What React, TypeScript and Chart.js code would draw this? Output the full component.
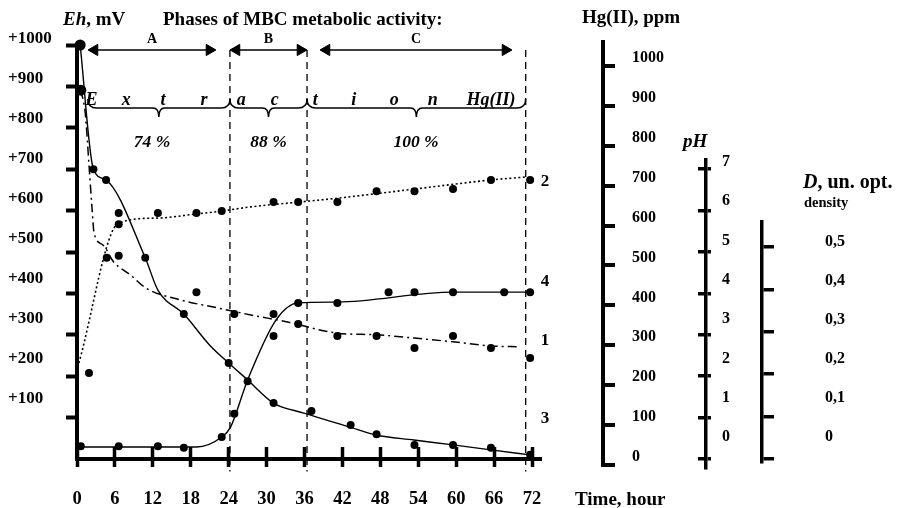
import React, { useEffect, useRef } from 'react';
import { Chart, registerables } from 'chart.js';

Chart.register(...registerables);

const SERIF = "'Liberation Serif', 'Times New Roman', Times, serif";

// ---------- axis ticks ----------
const timeTicks = [0, 6, 12, 18, 24, 30, 36, 42, 48, 54, 60, 66, 72];
const ehTicks = [100, 200, 300, 400, 500, 600, 700, 800, 900, 1000];
const ehTickLabels = ['+100', '+200', '+300', '+400', '+500', '+600', '+700', '+800', '+900', '+1000'];
const hgTicks = [0, 100, 200, 300, 400, 500, 600, 700, 800, 900, 1000];
const phTicks = [0, 1, 2, 3, 4, 5, 6, 7];
const dTicks = [0, 0.1, 0.2, 0.3, 0.4, 0.5];
const dTickLabels = ['0', '0,1', '0,2', '0,3', '0,4', '0,5'];

// ---------- curve 1 (dash-dot) ----------
const curve1Line: [number, number][] = [
  [0.6, 891], [1.3, 836], [1.9, 710], [2.4, 601], [2.7, 546], [4.1, 517], [5.8, 476], [8.5, 444],
  [10.9, 413], [16.4, 384], [21.6, 367], [27.5, 348], [33.3, 331], [41.2, 304], [47.4, 300],
  [53.4, 292], [59.5, 283], [65.5, 273], [70.1, 271],
];
const curve1Dots: [number, number][] = [
  [0.6, 891], [4.7, 486], [6.6, 491], [18.9, 403], [24.9, 350], [31.1, 350], [35, 326], [41.2, 297],
  [47.4, 297], [53.4, 268], [59.5, 297], [65.5, 268], [71.7, 244],
];

// ---------- curve 2 (dotted) ----------
const curve2Line: [number, number][] = [
  [0.3, 232], [6.6, 570], [12.8, 582], [18.9, 592], [22.9, 599], [27.5, 609], [35.4, 621],
  [41.2, 630], [53.4, 652], [65.5, 674], [70.9, 681],
];
const curve2Dots: [number, number][] = [
  [1.9, 208], [6.6, 594], [6.6, 567], [12.8, 594], [18.9, 594], [22.9, 599], [31.1, 621], [35, 621],
  [41.2, 621], [47.4, 647], [53.4, 647], [59.5, 652], [65.5, 674], [71.7, 674],
];

// ---------- curve 3 (solid, falling) ----------
const curve3Line: [number, number][] = [
  [0.5, 1000], [2.6, 700], [4.6, 674], [10.8, 486], [12.8, 408], [16.9, 350], [21, 275], [24, 232],
  [27, 191], [31.1, 135], [35.9, 111], [43.2, 77], [47.3, 58], [53.3, 46], [59.5, 34], [65.5, 22],
  [71.7, 10],
];
const curve3Dots: [number, number][] = [
  [0.5, 1000], [2.6, 700], [4.6, 674], [10.8, 486], [16.9, 350], [24, 232], [31.1, 135], [37.1, 116],
  [43.3, 82], [47.4, 60], [53.4, 34], [59.5, 34], [65.5, 27], [71.7, 10],
];

// ---------- curve 4 (solid, rising) ----------
const curve4Line: [number, number][] = [
  [0.5, 29], [18.9, 29], [22.9, 53], [24.3, 77], [27, 191], [31.5, 336], [35, 377], [41.2, 379],
  [59.5, 403], [71.7, 403],
];
const curve4Dots: [number, number][] = [
  [0.6, 31], [6.6, 31], [12.8, 31], [16.9, 27], [22.9, 53], [24.9, 109], [27, 188], [31.1, 297],
  [35, 377], [41.2, 377], [49.3, 403], [53.4, 403], [59.5, 403], [67.6, 403], [71.7, 403],
];

// ---------- phases ----------
const phaseNames = ['A', 'B', 'C'];
const phaseExtraction = ['74 %', '88 %', '100 %'];
const arrowFrom = [2.77, 25.24, 39.48];
const arrowTo = [20.96, 35.36, 67.8];
const phaseBounds = [1.7, 24.2, 36.4, 71.0];
const phaseDividers = [24.2, 36.4, 71.0];
const extractionWord = ['E', 'x', 't', 'r', 'a', 'c', 't', 'i', 'o', 'n', 'Hg(II)'];
const extractionAt = [2.3, 7.8, 13.6, 20.1, 26.0, 31.3, 37.7, 43.8, 50.2, 56.3, 65.5];

// ---------- curve numbers ----------
const curveNames = ['1', '2', '3', '4'];
const curveNameLevels = [285, 669, 97, 428];
const curveNameAt = 74.05;

const pts = (a: [number, number][]) => a.map(([x, y]) => ({ x, y }));
const tickList = (vals: number[]) => (scale: any) => {
  scale.ticks = vals.map((v) => ({ value: v }));
};
const fixW = (w: number) => (scale: any) => {
  scale.width = w;
};
const fixH = (h: number) => (scale: any) => {
  scale.height = h;
};

const annotationPlugin = {
  id: 'mbcAnnotations',
  afterDraw(chart: any) {
    const ctx = chart.ctx as CanvasRenderingContext2D;
    const xs = chart.scales.x;
    const ys = chart.scales.y;
    const px = (h: number) => xs.getPixelForValue(h);
    ctx.save();
    ctx.fillStyle = '#000';
    ctx.strokeStyle = '#000';
    ctx.textBaseline = 'alphabetic';
    const put = (s: string, x: number, y: number, font: string, align: CanvasTextAlign = 'left') => {
      ctx.font = font;
      ctx.textAlign = align;
      ctx.fillText(s, x, y);
      return ctx.measureText(s).width;
    };

    let w = put('Eh', 63, 25, `italic bold 19px ${SERIF}`);
    put(', mV', 63 + w, 25, `bold 19px ${SERIF}`);
    put('Phases of MBC metabolic activity:', 163, 25, `bold 19px ${SERIF}`);
    put('Hg(II), ppm', 582, 23, `bold 19px ${SERIF}`);
    put('pH', 683, 147, `italic bold 19px ${SERIF}`);
    w = put('D', 803, 188, `italic bold 20px ${SERIF}`);
    put(', un. opt.', 803 + w, 188, `bold 20px ${SERIF}`);
    put('density', 804, 207, `bold 14.5px ${SERIF}`);
    put('Time, hour', 575, 505, `bold 19px ${SERIF}`);

    ctx.lineWidth = 1.5;
    for (let i = 0; i < phaseNames.length; i++) {
      const mid = px((arrowFrom[i] + arrowTo[i]) / 2);
      put(phaseNames[i], mid, 43, `bold 14px ${SERIF}`, 'center');
      put(phaseExtraction[i], mid, 147, `italic bold 17.5px ${SERIF}`, 'center');
      const x0 = px(phaseBounds[i]);
      const x1 = px(phaseBounds[i + 1]);
      const xc = (x0 + x1) / 2;
      const yEnd = 99, yMid = 108, yTip = 117;
      ctx.beginPath();
      ctx.moveTo(x0, yEnd);
      ctx.quadraticCurveTo(x0, yMid, x0 + 9, yMid);
      ctx.lineTo(xc - 6, yMid);
      ctx.quadraticCurveTo(xc, yMid, xc, yTip);
      ctx.quadraticCurveTo(xc, yMid, xc + 6, yMid);
      ctx.lineTo(x1 - 9, yMid);
      ctx.quadraticCurveTo(x1, yMid, x1, yEnd);
      ctx.stroke();
    }
    for (let i = 0; i < extractionWord.length; i++) {
      put(extractionWord[i], px(extractionAt[i]), 105, `italic bold 18px ${SERIF}`, 'center');
    }
    ctx.textBaseline = 'middle';
    for (let i = 0; i < curveNames.length; i++) {
      put(curveNames[i], px(curveNameAt), ys.getPixelForValue(curveNameLevels[i]), `bold 17px ${SERIF}`, 'center');
    }
    ctx.restore();
  },
};

function lineSet(data: [number, number][], width: number, dash: number[]) {
  return {
    type: 'line',
    data: pts(data),
    borderColor: '#000',
    borderWidth: width,
    borderDash: dash,
    pointRadius: 0,
    cubicInterpolationMode: 'monotone',
    fill: false,
    clip: false,
    xAxisID: 'x',
    yAxisID: 'y',
  };
}
function dotSet(data: [number, number][], big: boolean) {
  return {
    type: 'line',
    data: pts(data),
    showLine: false,
    pointRadius: (c: any) => (big && c.dataIndex === 0 ? 5.5 : 4),
    pointBackgroundColor: '#000',
    pointBorderColor: '#000',
    pointBorderWidth: 0,
    clip: false,
    xAxisID: 'x',
    yAxisID: 'y',
  };
}

function mainConfig(): any {
  const datasets: any[] = [
    lineSet(curve1Line, 1.5, [9, 4, 2, 4]),
    lineSet(curve2Line, 1.6, [2, 2.5]),
    lineSet(curve3Line, 1.4, []),
    lineSet(curve4Line, 1.4, []),
    dotSet(curve1Dots, true),
    dotSet(curve2Dots, false),
    dotSet(curve3Dots, true),
    dotSet(curve4Dots, false),
  ];
  phaseDividers.forEach((b) => {
    datasets.push({
      type: 'line',
      data: [{ x: b, y: 988 }, { x: b, y: -30 }],
      borderColor: '#000',
      borderWidth: 1.3,
      borderDash: [7, 5],
      pointRadius: 0,
      clip: false,
      xAxisID: 'x',
      yAxisID: 'y',
    });
  });
  phaseNames.forEach((_, i) => {
    datasets.push({
      type: 'line',
      data: [{ x: arrowFrom[i], y: 988 }, { x: arrowTo[i], y: 988 }],
      borderColor: '#000',
      borderWidth: 1.6,
      pointStyle: 'triangle',
      pointRadius: 6.5,
      pointRotation: [-90, 90],
      pointBackgroundColor: '#000',
      pointBorderColor: '#000',
      pointBorderWidth: 1,
      clip: false,
      xAxisID: 'x',
      yAxisID: 'y',
    });
  });

  const tickFont = (size: number) => ({ family: SERIF, size, weight: 'bold' as const });
  return {
    type: 'line',
    data: { datasets },
    options: {
      responsive: false,
      animation: false,
      events: [],
      layout: { padding: { left: 8, top: 45, right: 358.5, bottom: 0 } },
      plugins: { legend: { display: false }, tooltip: { enabled: false }, title: { display: false } },
      scales: {
        x: {
          type: 'linear',
          axis: 'x',
          position: 'bottom',
          weight: 1,
          min: 0,
          max: 73.5,
          afterBuildTicks: tickList(timeTicks),
          afterFit: fixH(49),
          border: { display: true, width: 4, color: '#000' },
          grid: { drawOnChartArea: false, drawTicks: true, tickLength: 8, tickWidth: 3.5, tickColor: '#000', color: '#000' },
          ticks: { font: tickFont(18.5), color: '#000', padding: 21, autoSkip: false, maxRotation: 0, callback: (v: any) => String(v) },
        },
        xUp: {
          type: 'linear',
          axis: 'x',
          position: 'bottom',
          weight: 0,
          min: 0,
          max: 73.5,
          afterBuildTicks: tickList(timeTicks),
          afterFit: fixH(0),
          border: { display: false },
          grid: { drawOnChartArea: false, drawTicks: true, tickLength: -12, tickWidth: 3.5, tickColor: '#000', color: '#000' },
          ticks: { display: false },
        },
        y: {
          type: 'linear',
          axis: 'y',
          position: 'left',
          weight: 0,
          min: 0,
          max: 1000,
          afterBuildTicks: tickList(ehTicks),
          afterFit: fixW(0),
          border: { display: true, width: 4, color: '#000' },
          grid: { drawOnChartArea: false, drawTicks: true, tickLength: 11, tickWidth: 4, tickColor: '#000', color: '#000' },
          ticks: { display: false },
        },
        yLab: {
          type: 'linear',
          axis: 'y',
          position: 'left',
          weight: 1,
          min: -50,
          max: 985,
          afterBuildTicks: tickList(ehTicks),
          afterFit: fixW(69),
          border: { display: false },
          grid: { display: false, drawTicks: false },
          ticks: {
            font: tickFont(17),
            color: '#000',
            crossAlign: 'far',
            autoSkip: false,
            callback: (v: any) => ehTickLabels[ehTicks.indexOf(v)],
          },
        },
      },
    },
    plugins: [annotationPlugin],
  };
}

interface SideAxisSpec {
  canvasWidth: number;
  padLeft: number;
  chartW: number;
  top: number;
  bottom: number;
  tickMin: number;
  tickMax: number;
  labelMin: number;
  labelMax: number;
  ticks: number[];
  labels: string[];
  tickBox: number;
  tickLen: number;
  cross: boolean;
  lineW: number;
  labelPad: number;
}

function sideConfig(s: SideAxisSpec): any {
  const labelBox = s.canvasWidth - s.padLeft - s.chartW - s.tickBox;
  return {
    type: 'line',
    data: { datasets: [] },
    options: {
      responsive: false,
      animation: false,
      events: [],
      layout: { padding: { left: s.padLeft, top: s.top, right: 0, bottom: 508 - s.bottom } },
      plugins: { legend: { display: false }, tooltip: { enabled: false } },
      scales: {
        x: { type: 'linear', display: false, min: 0, max: 1 },
        t: {
          type: 'linear',
          axis: 'y',
          position: 'right',
          weight: 0,
          min: s.tickMin,
          max: s.tickMax,
          afterBuildTicks: tickList(s.ticks),
          afterFit: fixW(s.tickBox),
          border: { display: true, width: s.lineW, color: '#000' },
          grid: {
            drawOnChartArea: s.cross,
            drawTicks: true,
            tickLength: s.tickLen,
            lineWidth: s.lineW,
            tickWidth: s.lineW,
            color: '#000',
            tickColor: '#000',
          },
          ticks: { display: false },
        },
        l: {
          type: 'linear',
          axis: 'y',
          position: 'right',
          weight: 1,
          min: s.labelMin,
          max: s.labelMax,
          afterBuildTicks: tickList(s.ticks),
          afterFit: fixW(labelBox),
          border: { display: false },
          grid: { display: false, drawTicks: false },
          ticks: {
            font: { family: SERIF, size: 16, weight: 'bold' },
            color: '#000',
            padding: s.labelPad,
            autoSkip: false,
            callback: (v: any) => s.labels[s.ticks.indexOf(v)],
          },
        },
      },
    },
  };
}

export default function App() {
  const mainRef = useRef<HTMLCanvasElement>(null);
  const hgRef = useRef<HTMLCanvasElement>(null);
  const phRef = useRef<HTMLCanvasElement>(null);
  const dRef = useRef<HTMLCanvasElement>(null);

  useEffect(() => {
    Chart.defaults.font.family = SERIF;
    Chart.defaults.color = '#000';
    const charts: Chart[] = [];
    charts.push(new Chart(mainRef.current as HTMLCanvasElement, mainConfig()));
    charts.push(
      new Chart(
        hgRef.current as HTMLCanvasElement,
        sideConfig({
          canvasWidth: 110, padLeft: 12, chartW: 1, top: 42, bottom: 465,
          tickMin: 0, tickMax: 1060, labelMin: 0 - 8 / 0.399, labelMax: 1060 - 8 / 0.399,
          ticks: hgTicks, labels: hgTicks.map(String),
          tickBox: 22, tickLen: 12, cross: false, lineW: 4, labelPad: 7,
        })
      )
    );
    charts.push(
      new Chart(
        phRef.current as HTMLCanvasElement,
        sideConfig({
          canvasWidth: 100, padLeft: 18, chartW: 8, top: 160, bottom: 468,
          tickMin: -0.217, tickMax: 7.217, labelMin: -0.789, labelMax: 7.05,
          ticks: phTicks, labels: phTicks.map(String),
          tickBox: 10, tickLen: 5, cross: true, lineW: 3.5, labelPad: 6,
        })
      )
    );
    charts.push(
      new Chart(
        dRef.current as HTMLCanvasElement,
        sideConfig({
          canvasWidth: 160, padLeft: 21, chartW: 1, top: 222, bottom: 462,
          tickMin: -0.00708, tickMax: 0.559, labelMin: -0.0641, labelMax: 0.5513,
          ticks: dTicks, labels: dTickLabels,
          tickBox: 56, tickLen: 12, cross: false, lineW: 3.5, labelPad: 7,
        })
      )
    );
    return () => charts.forEach((c) => c.destroy());
  }, []);

  const abs = (left: number): React.CSSProperties => ({ position: 'absolute', left, top: 0 });
  return (
    <div style={{ position: 'absolute', left: 0, top: 0, width: 900, height: 508, background: '#fff' }}>
      <canvas ref={mainRef} width={900} height={508} style={abs(0)} />
      <canvas ref={hgRef} width={110} height={508} style={abs(590)} />
      <canvas ref={phRef} width={100} height={508} style={abs(680)} />
      <canvas ref={dRef} width={160} height={508} style={abs(740)} />
    </div>
  );
}
